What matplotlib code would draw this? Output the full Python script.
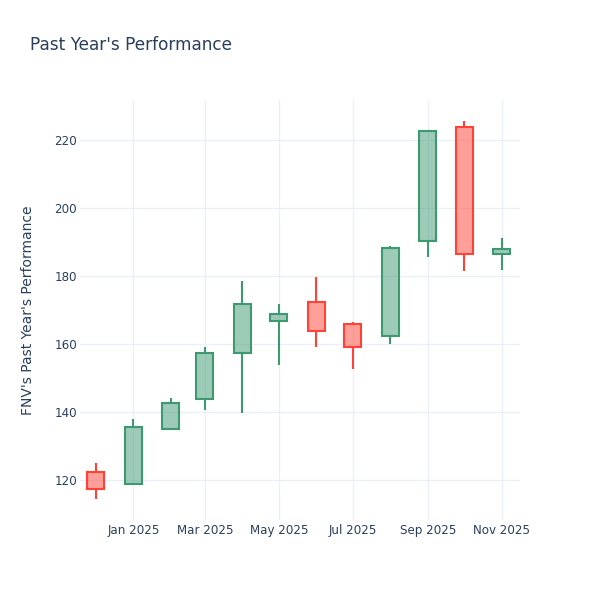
import matplotlib
matplotlib.use("Agg")
import matplotlib.pyplot as plt
import matplotlib.dates as mdates
import numpy as np
import pandas as pd

# monthly OHLC
dates = pd.to_datetime([
    "2024-12-01", "2025-01-01", "2025-02-01", "2025-03-01", "2025-04-01", "2025-05-01",
    "2025-06-01", "2025-07-01", "2025-08-01", "2025-09-01", "2025-10-01", "2025-11-01",
])
opens = [122.4, 118.8, 135.1, 143.8, 157.3, 166.9, 172.3, 165.9, 162.4, 190.4, 223.9, 186.6]
highs = [125.1, 138.0, 144.0, 159.1, 178.5, 171.8, 179.8, 166.6, 188.8, 222.9, 225.6, 191.2]
lows = [114.5, 118.7, 135.0, 140.6, 139.8, 153.7, 159.2, 152.7, 160.0, 185.7, 181.4, 181.8]
closes = [117.4, 135.7, 142.7, 157.4, 171.7, 168.8, 163.7, 159.0, 188.3, 222.7, 186.5, 187.9]

INC = "#3D9970"
DEC = "#FF4136"
TEXT = "#2a3f5f"
GRID = "#EBF0F8"

fig = plt.figure(figsize=(6, 6), dpi=100)
fig.patch.set_facecolor("white")
ax = fig.add_axes([80 / 600, 80 / 600, 440 / 600, 420 / 600])

x = mdates.date2num(dates)
width = 14  # days
for xi, o, h, l, c in zip(x, opens, highs, lows, closes):
    col = INC if c >= o else DEC
    lo, hi = min(o, c), max(o, c)
    ax.vlines(xi, hi, h, color=col, linewidth=1.5, zorder=2)
    ax.vlines(xi, l, lo, color=col, linewidth=1.5, zorder=2)
    ax.bar(xi, hi - lo, bottom=lo, width=width, facecolor=col, alpha=0.5,
           edgecolor="none", zorder=3)
    ax.bar(xi, hi - lo, bottom=lo, width=width, facecolor="none",
           edgecolor=col, linewidth=1.5, zorder=4)

ax.set_xlim(mdates.date2num(pd.Timestamp("2024-11-18")),
            mdates.date2num(pd.Timestamp("2025-11-16")))
ax.set_ylim(108.2, 231.8)

ax.set_yticks(np.arange(120, 221, 20))
ticks = pd.to_datetime(["2025-01-01", "2025-03-01", "2025-05-01",
                        "2025-07-01", "2025-09-01", "2025-11-01"])
ax.set_xticks(mdates.date2num(ticks))
ax.set_xticklabels([t.strftime("%b %Y") for t in ticks])

ax.grid(True, color=GRID, linewidth=1, zorder=0)
ax.set_axisbelow(True)
for s in ax.spines.values():
    s.set_visible(False)
ax.tick_params(length=0, labelsize=8.6, colors=TEXT)
ax.tick_params(axis="x", pad=3)
ax.tick_params(axis="y", pad=2)

ax.set_ylabel("FNV's Past Year's Performance", fontsize=10, color=TEXT, labelpad=14)
fig.text(30 / 600, 1 - 45 / 600, "Past Year's Performance", fontsize=12.2,
         color=TEXT, va="center", ha="left")

fig.savefig("out.png", dpi=100, facecolor="white")
